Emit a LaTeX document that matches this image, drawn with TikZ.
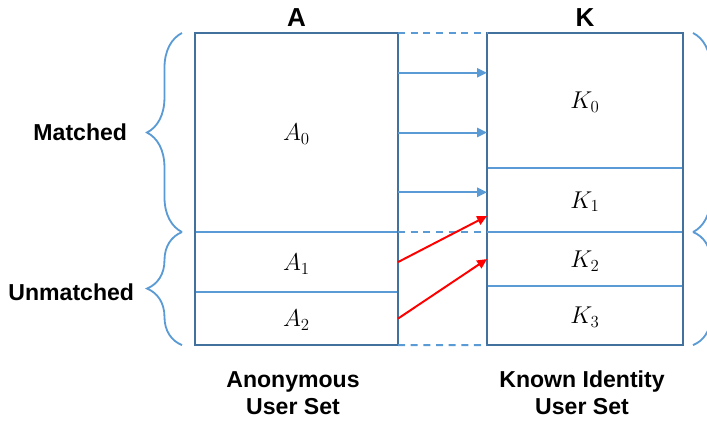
\documentclass[tikz,border=0pt]{standalone}
\usepackage{fontspec}
\setmainfont{Liberation Sans}
\usepackage{xcolor}
\usetikzlibrary{arrows.meta,positioning,calc,decorations.pathreplacing}
\definecolor{frameblue}{HTML}{41719C}
\definecolor{lineblue}{HTML}{5B9BD5}

\begin{document}
\begin{tikzpicture}[x=0.025cm,y=-0.025cm,font=\fontsize{16.4}{19}\selectfont\bfseries,
 cell/.style={draw=lineblue,line width=1pt,inner sep=0pt,outer sep=0pt,minimum width=#1,text depth=0pt,font=\fontsize{18}{20}\selectfont},
 head/.style={font=\fontsize{18.5}{20}\selectfont\bfseries},
 frame/.style={draw=frameblue,line width=1.7pt},
 link/.style={draw=lineblue,line width=1.3pt,dash pattern=on 5pt off 4pt},
 barrow/.style={draw=lineblue,line width=1.4pt,-{Triangle[length=7pt,width=6.5pt]}},
 rarrow/.style={draw=red,line width=1.4pt,-{Triangle[length=7pt,width=6.5pt]}},
 brc/.style={draw=lineblue,line width=1.3pt,decorate,decoration={brace,amplitude=0.875cm}}]
\useasboundingbox (0,0) rectangle (707,422);
% anonymous set
\node[cell=5.075cm,minimum height=4.975cm,anchor=north] (a0) at (296.5,33) {$A_0$};
\node[cell=5.075cm,minimum height=1.5cm,below=0pt of a0] (a1) {$A_1$};
\node[cell=5.075cm,minimum height=1.325cm,below=0pt of a1] (a2) {$A_2$};
\draw[frame] (a0.north west) rectangle (a2.south east);
% known identity set
\node[cell=4.9cm,minimum height=3.375cm,anchor=north] (k0) at (585,33) {$K_0$};
\node[cell=4.9cm,minimum height=1.6cm,below=0pt of k0] (k1) {$K_1$};
\node[cell=4.9cm,minimum height=1.35cm,below=0pt of k1] (k2) {$K_2$};
\node[cell=4.9cm,minimum height=1.475cm,below=0pt of k2] (k3) {$K_3$};
\draw[frame] (k0.north west) rectangle (k3.south east);
% headings and captions
\node[head] (ahead) at (296.5,18) {A};
\node[head] (khead) at (585,18) {K};
\node[align=center] (aname) at (293,393) {Anonymous\\User Set};
\node[align=center] (kname) at (582,393) {Known Identity\\User Set};
% dashed joins
\draw[link] (a0.north east) -- (k0.north west);
\draw[link] (a0.south east) -- (k1.south west);
\draw[link] (a2.south east) -- (k3.south west);
% matches
\foreach \f in {0.2,0.5,0.8}
  \draw[barrow] ($(a0.north east)!\f!(a0.south east)$) -- ($(k0.north west)!\f!(k1.south west)$);
\draw[rarrow] (a1.east) -- ($(k1.west)!0.5!(k1.south west)$);
\draw[rarrow] (a2.east) -- (k2.west);
% braces
\draw[brc] ($(a0.south west)+(-13,0)$) -- ($(a0.north west)+(-13,0)$);
\draw[brc] ($(a2.south west)+(-13,0)$) -- ($(a1.north west)+(-13,0)$);
\draw[brc] ($(k0.north east)+(10,0)$) -- ($(k1.south east)+(10,0)$);
\draw[brc] ($(k2.north east)+(10,0)$) -- ($(k3.south east)+(10,0)$);
\node[anchor=east] (matched) at (132,132) {Matched};
\node[anchor=east] (unmatched) at (139,292) {Unmatched};
\end{tikzpicture}
\end{document}
